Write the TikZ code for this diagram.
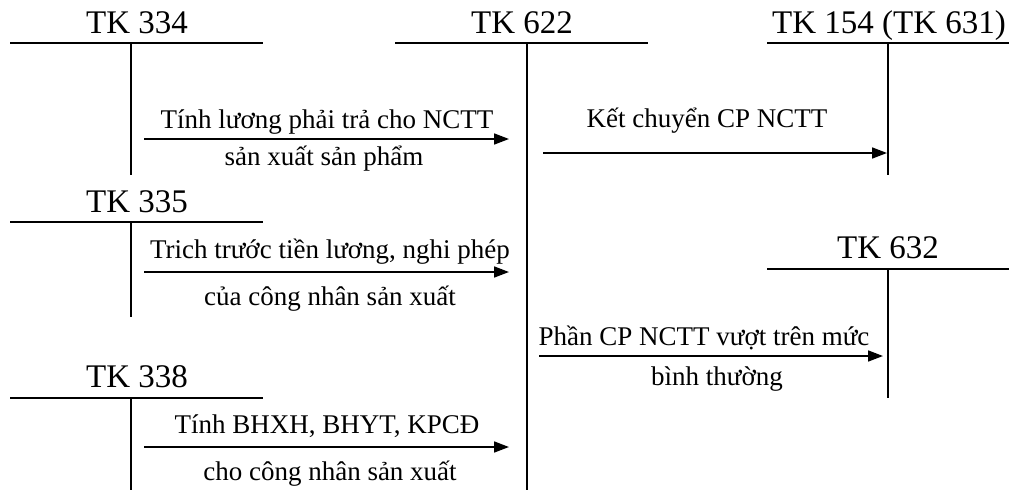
\documentclass[tikz,border=0pt]{standalone}
\usepackage{fontspec}
\setmainfont{Liberation Serif}
\usetikzlibrary{arrows.meta}
\begin{document}
\begin{tikzpicture}[x=1pt,y=-1pt,
  acct/.style={line width=1.7pt},
  flow/.style={line width=1.7pt,-{Triangle[length=15pt,width=11pt]}},
  ttl/.style={font=\fontsize{33}{36}\selectfont, inner sep=0pt, anchor=base},
  lbl/.style={font=\fontsize{27}{30}\selectfont, inner sep=0pt, anchor=base}]
\useasboundingbox (0,0) rectangle (1009,490);

% account titles
\node[ttl] (t334) at (137,33) {TK 334};
\node[ttl] (t622) at (522,33) {TK 622};
\node[ttl] (t154) at (889,33) {TK 154 (TK 631)};
\node[ttl] (t335) at (137,212) {TK 335};
\node[ttl] (t338) at (137,387) {TK 338};
\node[ttl] (t632) at (888,258) {TK 632};

% T-account frames
\draw[acct] (10,43) -- (263,43) (131,43) -- (131,175);
\draw[acct] (395,43) -- (648,43) (527,43) -- (527,490);
\draw[acct] (767,43) -- (1009,43) (888,43) -- (888,175);
\draw[acct] (10,222) -- (263,222) (131,222) -- (131,317);
\draw[acct] (10,398) -- (263,398) (131,398) -- (131,490);
\draw[acct] (767,269) -- (1009,269) (888,269) -- (888,398);

% arrow end points
\coordinate (s1) at (144,139); \coordinate (e1) at (509,139);
\coordinate (s2) at (543,153); \coordinate (e2) at (887,153);
\coordinate (s3) at (144,272); \coordinate (e3) at (509,272);
\coordinate (s4) at (144,447); \coordinate (e4) at (509,447);
\coordinate (s5) at (539,356); \coordinate (e5) at (883,356);

\draw[flow] (s1) -- (e1);
\draw[flow] (s2) -- (e2);
\draw[flow] (s3) -- (e3);
\draw[flow] (s4) -- (e4);
\draw[flow] (s5) -- (e5);

% entry descriptions
\node[lbl] (l1a) at (327,128) {Tính lương phải trả cho NCTT};
\node[lbl] (l1b) at (324,165) {sản xuất sản phẩm};
\node[lbl] (l2a) at (707,127) {Kết chuyển CP NCTT};
\node[lbl] (l3a) at (330,258) {Trich trước tiền lương, nghi phép};
\node[lbl] (l3b) at (330,305) {của công nhân sản xuất};
\node[lbl] (l4a) at (327,433) {Tính BHXH, BHYT, KPCĐ};
\node[lbl] (l4b) at (330,480) {cho công nhân sản xuất};
\node[lbl] (l5a) at (704,345) {Phần CP NCTT vượt trên mức};
\node[lbl] (l5b) at (717,385) {bình thường};
\end{tikzpicture}
\end{document}
